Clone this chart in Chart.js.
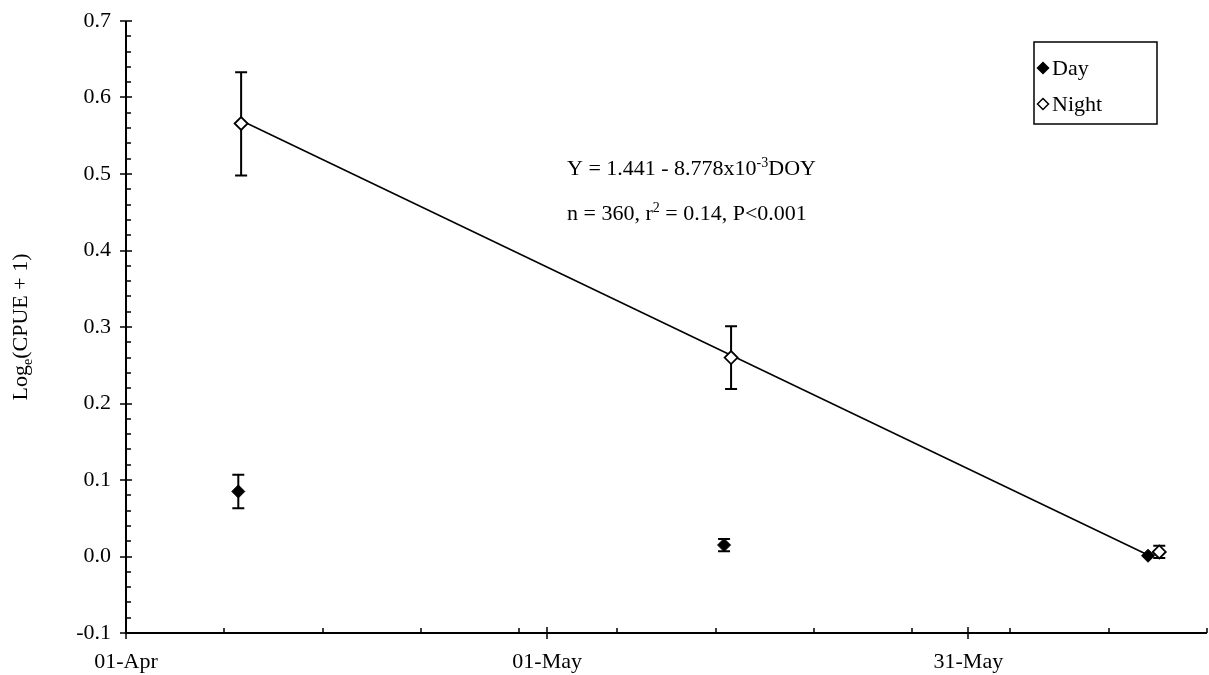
<!DOCTYPE html>
<html>
<head>
<meta charset="utf-8">
<script src="https://cdn.jsdelivr.net/npm/chart.js@4.4.0/dist/chart.umd.min.js"></script>
<style>
  body { margin: 0; background: #fff; }
  #wrap { width: 1209px; height: 675px; position: relative; }
</style>
</head>
<body>
<div id="wrap"><canvas id="dataChart"></canvas></div>
<script>
// x values are day of year (01-Apr = 91)
var dayX = [99.0, 133.6, 163.8];
var dayY = [0.085, 0.015, 0.001];
var dayHi = [0.107, 0.023, null];
var dayLo = [0.063, 0.007, null];

var nightX = [99.2, 134.1, 164.6];
var nightY = [0.566, 0.260, 0.006];
var nightHi = [0.633, 0.301, 0.014];
var nightLo = [0.498, 0.219, -0.002];

// regression line end points
var regX = [99.2, 163.8];
var regY = [0.570, 0.002];

var xTickDays = [91, 121, 151];
var xTickLabels = ['01-Apr', '01-May', '31-May'];

var FONT = '"Liberation Serif", "Times New Roman", serif';
var FS = 22;

function toPoints(xs, ys) {
  return xs.map(function (v, i) { return { x: v, y: ys[i] }; });
}

// error bars for each scatter dataset
var errorBars = {
  id: 'errorBars',
  beforeDatasetsDraw: function (chart) {
    var ctx = chart.ctx, x = chart.scales.x, y = chart.scales.y;
    var sets = [[dayX, dayHi, dayLo], [nightX, nightHi, nightLo]];
    ctx.save();
    ctx.strokeStyle = '#000';
    ctx.lineWidth = 2;
    sets.forEach(function (s) {
      s[0].forEach(function (v, i) {
        if (s[1][i] == null) return;
        var px = x.getPixelForValue(v);
        var top = y.getPixelForValue(s[1][i]);
        var bot = y.getPixelForValue(s[2][i]);
        ctx.beginPath();
        ctx.moveTo(px, top); ctx.lineTo(px, bot);
        ctx.moveTo(px - 6, top); ctx.lineTo(px + 6, top);
        ctx.moveTo(px - 6, bot); ctx.lineTo(px + 6, bot);
        ctx.stroke();
      });
    });
    ctx.restore();
  }
};

// axis lines with major / minor ticks, excel style
var axesLines = {
  id: 'axesLines',
  afterDraw: function (chart) {
    var ctx = chart.ctx, a = chart.chartArea, x = chart.scales.x, y = chart.scales.y;
    ctx.save();
    ctx.strokeStyle = '#000';
    ctx.lineWidth = 2;
    ctx.beginPath();
    ctx.moveTo(a.left, a.top); ctx.lineTo(a.left, a.bottom);
    ctx.lineTo(a.right, a.bottom);
    ctx.stroke();
    ctx.lineWidth = 1.5;
    ctx.beginPath();
    for (var i = 0; i <= 40; i++) {
      var py = Math.round(y.getPixelForValue(-0.1 + i * 0.02));
      if (i % 5 === 0) {
        ctx.moveTo(a.left - 6, py); ctx.lineTo(a.left + 6, py);
      } else {
        ctx.moveTo(a.left, py); ctx.lineTo(a.left + 5, py);
      }
    }
    for (var d = 91; d <= 168; d += 7) {
      var px = Math.round(x.getPixelForValue(d));
      ctx.moveTo(px, a.bottom); ctx.lineTo(px, a.bottom - 5);
    }
    xTickDays.forEach(function (d) {
      var px = Math.round(x.getPixelForValue(d));
      ctx.moveTo(px, a.bottom - 6); ctx.lineTo(px, a.bottom + 6);
    });
    ctx.stroke();
    ctx.restore();
  }
};

function drawRich(ctx, parts, x, y, size) {
  parts.forEach(function (p) {
    var s = p.sup || p.sub ? Math.round(size * 0.65) : size;
    ctx.font = s + 'px ' + FONT;
    var dy = p.sup ? -size * 0.38 : (p.sub ? size * 0.22 : 0);
    ctx.fillText(p.t, x, y + dy);
    x += ctx.measureText(p.t).width;
  });
}
function richWidth(ctx, parts, size) {
  var w = 0;
  parts.forEach(function (p) {
    var s = p.sup || p.sub ? Math.round(size * 0.65) : size;
    ctx.font = s + 'px ' + FONT;
    w += ctx.measureText(p.t).width;
  });
  return w;
}

// equation, axis title and the boxed legend
var annotations = {
  id: 'annotations',
  afterDraw: function (chart) {
    var ctx = chart.ctx;
    ctx.save();
    ctx.fillStyle = '#000';
    ctx.textBaseline = 'alphabetic';
    ctx.textAlign = 'left';
    drawRich(ctx, [{ t: 'Y = 1.441 - 8.778x10' }, { t: '-3', sup: true }, { t: 'DOY' }], 567, 175, FS);
    drawRich(ctx, [{ t: 'n = 360, r' }, { t: '2', sup: true }, { t: ' = 0.14, P<0.001' }], 567, 220, FS);

    // y title
    var title = [{ t: 'Log' }, { t: 'e', sub: true }, { t: '(CPUE + 1)' }];
    ctx.save();
    ctx.translate(27, 327);
    ctx.rotate(-Math.PI / 2);
    drawRich(ctx, title, -richWidth(ctx, title, FS) / 2, 0, FS);
    ctx.restore();

    // legend
    ctx.strokeStyle = '#000';
    ctx.lineWidth = 1.5;
    ctx.strokeRect(1034, 42, 123, 82);
    function diamond(cx, cy, r, fill) {
      ctx.beginPath();
      ctx.moveTo(cx, cy - r); ctx.lineTo(cx + r, cy);
      ctx.lineTo(cx, cy + r); ctx.lineTo(cx - r, cy);
      ctx.closePath();
      ctx.fillStyle = fill;
      ctx.fill();
      ctx.stroke();
    }
    diamond(1043, 68, 5.5, '#000');
    diamond(1043, 104, 5.5, '#fff');
    ctx.fillStyle = '#000';
    ctx.font = FS + 'px ' + FONT;
    ctx.fillText('Day', 1052, 75);
    ctx.fillText('Night', 1052, 111);
    ctx.restore();
  }
};

var ctx = document.getElementById('dataChart');
var myChart = new Chart(ctx, {
  type: 'scatter',
  data: {
    datasets: [{
        label: 'Day',
        data: toPoints(dayX, dayY),
        pointStyle: 'rectRot',
        pointRadius: 6.5,
        backgroundColor: '#000',
        borderColor: '#000',
        borderWidth: 1
      },
      {
        label: 'Night',
        data: toPoints(nightX, nightY),
        pointStyle: 'rectRot',
        pointRadius: 6.5,
        backgroundColor: '#fff',
        borderColor: '#000',
        borderWidth: 1.8
      },
      {
        label: 'Regression',
        data: toPoints(regX, regY),
        showLine: true,
        pointRadius: 0,
        borderColor: '#000',
        borderWidth: 1.5,
        fill: false
      }]
  },
  options: {
    responsive: true,
    maintainAspectRatio: false,
    animation: false,
    layout: { autoPadding: false, padding: { top: 21, right: 2, left: 0, bottom: 0 } },
    plugins: {
      legend: { display: false },
      tooltip: { enabled: false }
    },
    scales: {
      x: {
        type: 'linear',
        min: 91,
        max: 168,
        grid: { display: false, drawTicks: false },
        border: { display: false },
        afterBuildTicks: function (scale) {
          scale.ticks = xTickDays.map(function (d) { return { value: d }; });
        },
        afterFit: function (scale) {
          scale.height = 42;
          scale.paddingLeft = 0;
          scale.paddingRight = 0;
        },
        ticks: {
          padding: 16,
          color: '#000',
          font: { family: FONT, size: FS },
          maxRotation: 0,
          callback: function (v) {
            var i = xTickDays.indexOf(v);
            return i >= 0 ? xTickLabels[i] : '';
          }
        }
      },
      y: {
        min: -0.1,
        max: 0.7,
        grid: { display: false, drawTicks: false },
        border: { display: false },
        afterFit: function (scale) {
          scale.width = 126;
          scale.paddingTop = 0;
          scale.paddingBottom = 0;
        },
        ticks: {
          stepSize: 0.1,
          padding: 15,
          color: '#000',
          font: { family: FONT, size: FS },
          callback: function (v) {
            var n = Math.abs(v) < 1e-9 ? 0 : v;
            return Number(n).toFixed(1);
          }
        }
      }
    }
  },
  plugins: [errorBars, axesLines, annotations]
});
</script>
</body>
</html>
